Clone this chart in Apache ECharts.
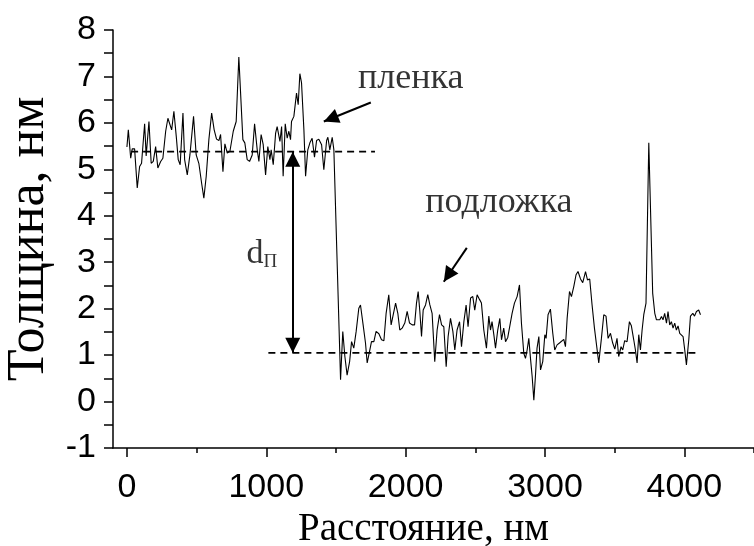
<!DOCTYPE html>
<html>
<head>
<meta charset="utf-8">
<script src="https://cdn.jsdelivr.net/npm/echarts@6/dist/echarts.min.js"></script>
<style>
  html, body { margin: 0; padding: 0; background: #fff; }
  #chart { width: 754px; height: 546px; }
</style>
</head>
<body>
<div id="chart"></div>
<script>
// Height profile across the film edge (distance in nm, thickness in nm)
const distance = [
  0, 10, 27, 38, 55, 74, 91, 105, 127, 138, 158, 174, 189, 206, 222, 242, 258, 278, 294, 308,
  321, 337, 354, 368, 382, 402, 414, 433, 452, 478, 497, 516, 536, 552, 569, 588, 608, 626, 643, 660,
  672, 689, 703, 720, 739, 763, 784, 803, 816, 832, 846, 863, 880, 899, 916, 935, 947, 963, 978, 995,
  1011, 1026, 1035, 1050, 1067, 1078, 1098, 1110, 1121, 1136, 1150, 1162, 1174, 1181, 1198, 1217, 1229, 1241, 1253, 1270,
  1282, 1298, 1313, 1329, 1346, 1361, 1377, 1397, 1413, 1433, 1442, 1456, 1473, 1485, 1533, 1549, 1564, 1580, 1598, 1612,
  1628, 1645, 1664, 1676, 1695, 1712, 1724, 1741, 1755, 1772, 1788, 1808, 1827, 1844, 1860, 1879, 1896, 1910, 1928, 1944,
  1958, 1975, 1994, 2011, 2028, 2047, 2064, 2078, 2090, 2102, 2114, 2126, 2143, 2159, 2174, 2190, 2209, 2226, 2243, 2258,
  2274, 2291, 2305, 2322, 2339, 2353, 2369, 2387, 2401, 2418, 2434, 2448, 2466, 2482, 2496, 2513, 2530, 2544, 2561, 2580,
  2597, 2609, 2620, 2633, 2645, 2661, 2676, 2688, 2704, 2717, 2733, 2747, 2764, 2781, 2800, 2817, 2831, 2848, 2860, 2872,
  2884, 2896, 2908, 2920, 2932, 2943, 2956, 2968, 2984, 2999, 3008, 3022, 3039, 3056, 3070, 3087, 3104, 3118, 3135, 3147,
  3159, 3176, 3190, 3207, 3223, 3237, 3255, 3271, 3291, 3305, 3321, 3338, 3355, 3369, 3386, 3405, 3422, 3438, 3453, 3470,
  3486, 3501, 3517, 3529, 3546, 3558, 3572, 3589, 3606, 3620, 3637, 3649, 3661, 3673, 3685, 3697, 3709, 3725, 3745, 3773,
  3788, 3800, 3811, 3824, 3836, 3847, 3859, 3872, 3883, 3895, 3907, 3919, 3931, 3943, 3955, 3967, 3979, 3991, 4003, 4015,
  4032, 4044, 4061, 4073, 4087, 4103, 4116
];
const thickness = [
  5.48, 5.85, 5.24, 5.44, 5.44, 4.60, 5.06, 5.13, 5.98, 5.29, 6.03, 5.13, 5.17, 5.49, 5.03, 5.17, 5.24, 5.82, 6.10, 6.08,
  5.85, 6.25, 5.71, 5.21, 5.10, 6.21, 5.21, 4.88, 5.31, 6.14, 5.31, 5.13, 4.70, 4.38, 4.85, 5.64, 6.21, 5.85, 5.65, 5.62,
  5.75, 4.95, 5.55, 5.35, 5.39, 5.82, 6.03, 7.42, 7.42, 5.64, 5.57, 5.21, 5.17, 5.31, 5.98, 5.42, 5.17, 5.75, 5.53, 4.88,
  5.49, 5.21, 5.42, 5.10, 5.78, 5.92, 5.60, 5.92, 4.85, 5.98, 5.67, 5.82, 5.64, 6.03, 6.14, 6.64, 6.39, 7.06, 6.86, 5.85,
  4.85, 5.42, 5.57, 5.67, 5.26, 5.62, 5.65, 5.53, 4.99, 5.62, 5.69, 5.42, 5.69, 5.42, 0.47, 1.51, 0.97, 0.57, 0.86, 1.29,
  1.15, 1.51, 2.01, 2.08, 1.65, 1.26, 0.83, 1.08, 1.29, 1.29, 1.51, 1.46, 1.33, 1.31, 1.90, 2.30, 1.65, 1.63, 2.12, 1.90,
  1.54, 1.58, 1.69, 1.94, 1.69, 1.65, 1.65, 2.12, 2.37, 1.94, 1.40, 1.97, 2.08, 2.30, 2.08, 1.90, 0.86, 1.54, 1.87, 1.65,
  1.61, 0.75, 1.40, 1.79, 1.51, 1.11, 1.54, 1.72, 1.18, 1.72, 2.08, 1.61, 2.23, 2.26, 1.97, 2.30, 2.20, 2.12, 1.54, 1.15,
  1.84, 1.54, 1.72, 1.44, 1.15, 1.54, 1.79, 1.33, 1.58, 1.29, 1.38, 1.36, 1.90, 2.12, 2.26, 2.51, 1.69, 1.04, 0.93, 1.11,
  1.36, 0.93, 0.54, 0.03, 0.57, 1.15, 1.40, 0.68, 0.86, 1.44, 1.36, 1.87, 1.99, 1.47, 1.11, 1.22, 1.26, 1.27, 1.34, 1.18,
  1.79, 2.37, 2.26, 2.48, 2.73, 2.80, 2.64, 2.56, 2.80, 2.62, 2.64, 2.08, 1.58, 1.54, 0.83, 1.36, 1.87, 1.84, 1.36, 1.47,
  1.26, 1.13, 1.36, 0.97, 1.18, 1.11, 1.31, 1.29, 1.72, 1.63, 1.33, 1.11, 0.83, 1.44, 1.11, 1.54, 1.87, 2.12, 5.57, 2.33,
  1.90, 1.76, 1.79, 1.76, 1.83, 1.76, 1.90, 1.69, 1.94, 1.65, 1.72, 1.58, 1.69, 1.54, 1.63, 1.47, 1.51, 1.40, 1.11, 0.79,
  1.33, 1.84, 1.90, 1.84, 1.94, 1.97, 1.87
];

// Axis ticks and labels
const xMajorTicks = [0, 1000, 2000, 3000, 4000];
const xMinorTicks = [500, 1500, 2500, 3500, 4500];
const xLabels = [0, 1000, 2000, 3000, 4000];
const yLabels = [-1, 0, 1, 2, 3, 4, 5, 6, 7, 8];

// Reference levels of the film and the substrate (nm)
const filmLevel = 5.38;
const substrateLevel = 1.05;
const filmSpan = [30, 1780];
const substrateSpan = [1015, 4094];
const stepArrowX = 1190;

// Pointer arrows: [tail, head] in data units
const filmPointer = [[1750, 6.44], [1413, 6.03]];
const substratePointer = [[2439, 3.31], [2274, 2.58]];

// Text notes in data units
const notes = [
  { text: 'пленка', at: [2037, 6.95] },
  { text: 'подложка', at: [2669, 4.28] },
  { text: '{d|d}{s|П}', at: [968, 3.18] }
];

const chart = echarts.init(document.getElementById('chart'), null, { renderer: 'canvas' });

const serif = 'Liberation Serif';
const sans = 'Liberation Sans';

// Filled arrowhead whose tip sits exactly on the line end
const head = { symbol: 'triangle', symbolSize: [15, 15], symbolOffset: [0, 7.5] };

const option = {
  backgroundColor: '#fff',
  animation: false,
  grid: { left: 113, right: 0, top: 30, bottom: 98, containLabel: false, outerBoundsMode: 'none' },
  xAxis: [
    {
      type: 'value', min: -100, max: 4500,
      axisLine: { show: true, onZero: false, lineStyle: { color: '#000', width: 1.5 } },
      axisTick: { show: true, customValues: xMajorTicks, length: 9, lineStyle: { color: '#000', width: 1.5 } },
      axisLabel: {
        customValues: xLabels, color: '#000', fontFamily: sans, fontSize: 34, margin: 23,
        formatter: v => String(v)
      },
      splitLine: { show: false },
      name: 'Расстояние, нм', nameLocation: 'middle', nameGap: 51,
      nameTextStyle: { color: '#000', fontFamily: serif, fontSize: 39, padding: [0, 20, 0, 0] }
    },
    {
      type: 'value', min: -100, max: 4500, position: 'bottom',
      axisLine: { show: false, onZero: false },
      axisTick: { show: true, customValues: xMinorTicks, length: 5, lineStyle: { color: '#000', width: 1.5 } },
      axisLabel: { show: false },
      splitLine: { show: false }
    }
  ],
  yAxis: {
    type: 'value', min: -1, max: 8, interval: 0.5,
    axisLine: { show: true, onZero: false, lineStyle: { color: '#000', width: 1.5 } },
    axisTick: { show: true, length: 9, lineStyle: { color: '#000', width: 1.5 } },
    axisLabel: {
      color: '#000', fontFamily: sans, fontSize: 34, margin: 17,
      formatter: v => (yLabels.indexOf(v) >= 0 ? String(v) : '')
    },
    splitLine: { show: false },
    name: 'Толщина, нм', nameLocation: 'middle', nameGap: 50, nameRotate: 90,
    nameTextStyle: { color: '#000', fontFamily: serif, fontSize: 52 }
  },
  series: [
    {
      name: 'profile', type: 'line', xAxisIndex: 0,
      data: distance.map((d, i) => [d, thickness[i]]),
      symbol: 'none', smooth: false,
      lineStyle: { color: '#000', width: 1.1 },
      z: 3,
      markLine: {
        silent: true, animation: false,
        label: { show: false },
        lineStyle: { color: '#000', width: 2, type: 'solid' },
        data: [
          [
            Object.assign({ coord: [stepArrowX, substrateLevel] }, head),
            Object.assign({ coord: [stepArrowX, filmLevel] }, head)
          ],
          [
            { coord: filmPointer[0], symbol: 'none' },
            Object.assign({ coord: filmPointer[1] }, head)
          ],
          [
            { coord: substratePointer[0], symbol: 'none' },
            Object.assign({ coord: substratePointer[1] }, head)
          ]
        ]
      }
    },
    {
      name: 'film level', type: 'line',
      data: [[filmSpan[0], filmLevel], [filmSpan[1], filmLevel]],
      symbol: 'none',
      lineStyle: { color: '#000', width: 1.8, type: [7, 5] },
      z: 2
    },
    {
      name: 'substrate level', type: 'line',
      data: [[substrateSpan[0], substrateLevel], [substrateSpan[1], substrateLevel]],
      symbol: 'none',
      lineStyle: { color: '#000', width: 1.8, type: [7, 5] },
      z: 2
    },
    {
      name: 'notes', type: 'scatter',
      data: notes.map(n => ({ value: n.at, label: { formatter: n.text } })),
      symbolSize: 0,
      label: {
        show: true, position: 'inside', color: '#000',
        fontFamily: serif, fontSize: 36,
        rich: {
          d: { fontFamily: serif, fontSize: 34, color: '#000' },
          s: { fontFamily: serif, fontSize: 19, color: '#000', padding: [16, 0, 0, 0] }
        }
      },
      z: 4
    }
  ]
};

chart.setOption(option);
</script>
</body>
</html>
